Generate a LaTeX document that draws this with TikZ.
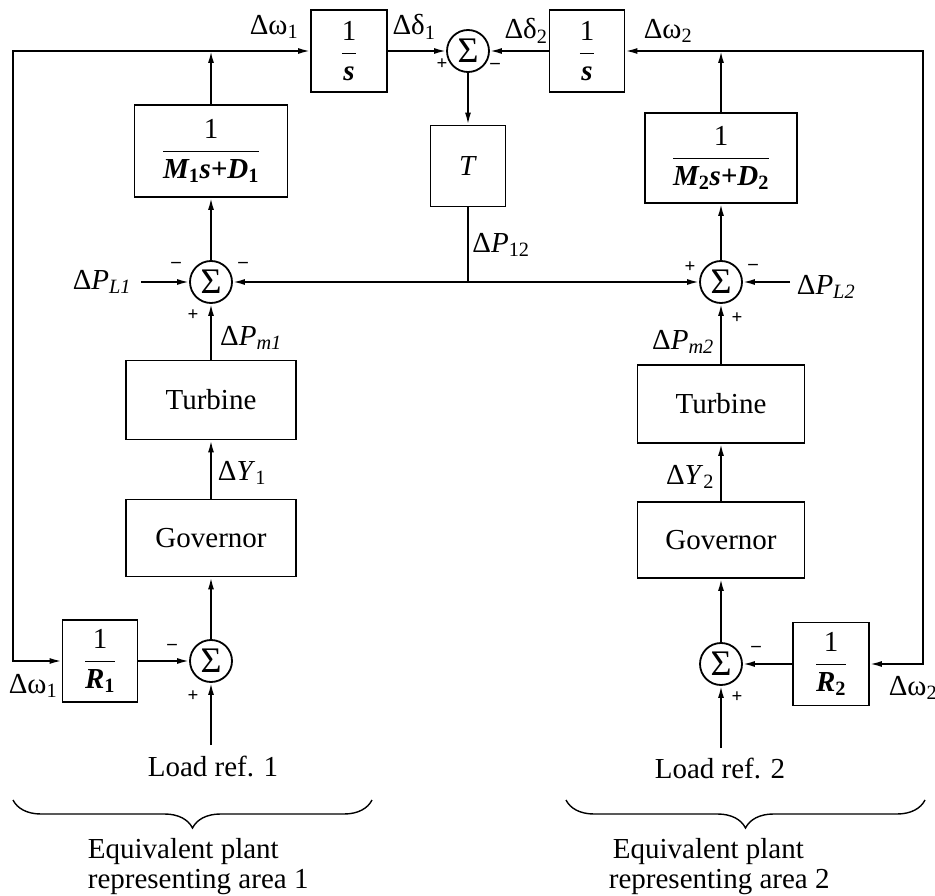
\RequirePackage{fix-cm}
\documentclass[tikz,border=0pt]{standalone}
\usepackage{fontspec}
\setmainfont{Liberation Serif}
\usetikzlibrary{arrows.meta,decorations.pathreplacing,calc}
\newcommand{\myfr}[2]{$\displaystyle\frac{\mbox{#1}}{\mbox{#2}}$}
\newcommand{\usub}[1]{\textsubscript{\upshape #1}}
\begin{document}
\begin{tikzpicture}[x=1pt,y=-1pt,
  font=\fontsize{29}{31}\selectfont,
  line width=1.8pt,
  tf/.style={draw, inner sep=0pt},
  sumj/.style={draw, circle, minimum size=42pt, inner sep=0pt, font=\fontsize{36}{36}\selectfont},
  sgn/.style={inner sep=0pt, font=\bfseries\fontsize{19}{19}\selectfont},
  lbl/.style={inner sep=0pt},
  arr/.style={-{Latex[length=12pt,width=6pt]}},
  brc/.style={decorate, decoration={brace, mirror, amplitude=28pt}, line width=1.4pt}]
\useasboundingbox (0,0) rectangle (935,896);
% blocks
\node[tf, minimum width=76pt, minimum height=82pt] (s1) at (349,51) {\myfr{1}{\bfseries\itshape s}};
\node[sumj] (sT) at (468,51) {Σ};
\node[tf, minimum width=75pt, minimum height=82pt] (s2) at (587,51) {\myfr{1}{\bfseries\itshape s}};
\node[tf, minimum width=153pt, minimum height=92pt] (m1) at (211,151) {\myfr{1}{\bfseries\itshape M\usub{1}s+D\usub{1}}};
\node[tf, minimum width=152pt, minimum height=90pt] (m2) at (721,158) {\myfr{1}{\bfseries\itshape M\usub{2}s+D\usub{2}}};
\node[tf, minimum width=75pt, minimum height=81pt] (T) at (468,166) {\textit{T}};
\node[sumj] (sL) at (211,282) {Σ};
\node[sumj] (sR) at (721,282) {Σ};
\node[tf, minimum width=170pt, minimum height=79pt] (tu1) at (211,400) {Turbine};
\node[tf, minimum width=167pt, minimum height=78pt] (tu2) at (721,404) {Turbine};
\node[tf, minimum width=170pt, minimum height=77pt] (go1) at (211,538) {Governor};
\node[tf, minimum width=167pt, minimum height=76pt] (go2) at (721,540) {Governor};
\node[sumj] (sB1) at (211,661) {Σ};
\node[sumj] (sB2) at (721,664) {Σ};
\node[tf, minimum width=75pt, minimum height=82pt] (r1) at (100,661) {\myfr{1}{\bfseries\itshape R\usub{1}}};
\node[tf, minimum width=76pt, minimum height=83pt] (r2) at (831,664) {\myfr{1}{\bfseries\itshape R\usub{2}}};
% coordinates
\coordinate (j1) at (211,51);
\coordinate (j2) at (721,51);
\coordinate (tl) at (13,51);
\coordinate (tr) at (923,51);
\coordinate (jP) at (468,282);
\coordinate (pl1) at (141,282);
\coordinate (pl2) at (790,282);
\coordinate (lr1) at (211,745);
\coordinate (lr2) at (721,748);
% connectors left
\draw[arr] (m1.north) -- (j1);
\draw[arr] (j1) -- (s1.west);
\draw[arr] (j1) -- (tl) -- (tl |- r1.west) -- (r1.west);
\draw[arr] (s1.east) -- (sT.west);
\draw[arr] (s2.west) -- (sT.east);
\draw[arr] (sT.south) -- (T.north);
\draw (T.south) -- (jP);
\draw[arr] (jP) -- (sL.east);
\draw[arr] (jP) -- (sR.west);
\draw[arr] (pl1) -- (sL.west);
\draw[arr] (pl2) -- (sR.east);
\draw[arr] (sL.north) -- (m1.south);
\draw[arr] (tu1.north) -- (sL.south);
\draw[arr] (go1.north) -- (tu1.south);
\draw[arr] (sB1.north) -- (go1.south);
\draw[arr] (lr1) -- (sB1.south);
\draw[arr] (r1.east) -- (sB1.west);
% connectors right
\draw[arr] (m2.north) -- (j2);
\draw[arr] (j2) -- (s2.east);
\draw[arr] (j2) -- (tr) -- (tr |- r2.east) -- (r2.east);
\draw[arr] (r2.west) -- (sB2.east);
\draw[arr] (sR.north) -- (m2.south);
\draw[arr] (tu2.north) -- (sR.south);
\draw[arr] (go2.north) -- (tu2.south);
\draw[arr] (sB2.north) -- (go2.south);
\draw[arr] (lr2) -- (sB2.south);
% labels
\node[lbl] (lw1) at (274,27) {Δω\textsubscript{1}};
\node[lbl] (ld1) at (414,27) {Δδ\textsubscript{1}};
\node[lbl] (ld2) at (526,31) {Δδ\textsubscript{2}};
\node[lbl] (lw2) at (668,31) {Δω\textsubscript{2}};
\node[lbl] (lp12) at (501,245) {Δ\textit{P}\textsubscript{12}};
\node[lbl] (lpl1) at (102,282) {Δ\textit{P}\textsubscript{\textit{L1}}};
\node[lbl] (lpl2) at (826,287) {Δ\textit{P}\textsubscript{\textit{L2}}};
\node[lbl] (lpm1) at (251,338) {Δ\textit{P}\textsubscript{\textit{m1}}};
\node[lbl] (lpm2) at (683,342) {Δ\textit{P}\textsubscript{\textit{m2}}};
\node[lbl] (ly1) at (242,473) {Δ\textit{Y}\textsubscript{1}};
\node[lbl] (ly2) at (690,477) {Δ\textit{Y}\textsubscript{2}};
\node[lbl] (lw1b) at (33,686) {Δω\textsubscript{1}};
\node[lbl] (lw2b) at (913,688) {Δω\textsubscript{2}};
% signs
\node[sgn] (g1) at (442,64) {+};
\node[sgn] (g2) at (495,66) {–};
\node[sgn] (g3) at (176,265) {–};
\node[sgn] (g4) at (243,265) {–};
\node[sgn] (g5) at (193,315) {+};
\node[sgn] (g6) at (690,267) {+};
\node[sgn] (g7) at (753,267) {–};
\node[sgn] (g8) at (737,318) {+};
\node[sgn] (g9) at (172,647) {–};
\node[sgn] (g10) at (193,696) {+};
\node[sgn] (g11) at (756,649) {–};
\node[sgn] (g12) at (737,697) {+};
% load refs
\node[lbl] (lr1t) at (213,766) {Load ref. 1};
\node[lbl] (lr2t) at (720,768) {Load ref. 2};
% braces
\draw[brc] (13,800) -- (372,800);
\draw[brc] (566,800) -- (925,800);
\node[lbl, anchor=base west] (e1a) at (87,858) {Equivalent plant};
\node[lbl, anchor=base west] (e1b) at (87,888) {representing area 1};
\node[lbl, anchor=base west] (e2a) at (612,858) {Equivalent plant};
\node[lbl, anchor=base west] (e2b) at (608,888) {representing area 2};
\end{tikzpicture}
\end{document}
